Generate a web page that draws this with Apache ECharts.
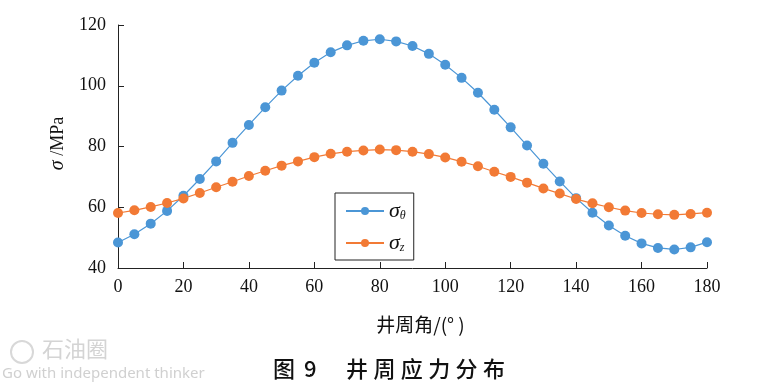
<!DOCTYPE html>
<html><head><meta charset="utf-8">
<script src="https://cdn.jsdelivr.net/npm/echarts@6/dist/echarts.min.js"></script>
<style>html,body{margin:0;padding:0;background:#fff}#c{width:775px;height:388px}</style>
</head><body><div id="c"></div>
<script>
const angles = [0,5,10,15,20,25,30,35,40,45,50,55,60,65,70,75,80,85,90,95,100,105,110,115,120,125,130,135,140,145,150,155,160,165,170,175,180];
const sigmaTheta = [48.4,51.1,54.6,58.8,63.8,69.3,75.1,81.2,87.1,92.9,98.4,103.3,107.6,111.0,113.3,114.8,115.3,114.6,113.1,110.5,106.9,102.6,97.7,92.1,86.3,80.3,74.3,68.5,63.0,58.2,54.0,50.6,48.1,46.6,46.1,46.8,48.5];
const sigmaZ = [58.1,59.0,60.1,61.4,62.9,64.7,66.6,68.4,70.3,72.0,73.7,75.1,76.5,77.6,78.3,78.7,79.0,78.8,78.3,77.5,76.4,75.0,73.5,71.7,70.0,68.1,66.2,64.5,62.7,61.3,60.0,58.9,58.1,57.7,57.5,57.8,58.2];
const xTicks = {min:0, max:180, interval:20};
const yTicks = {min:40, max:120, interval:20};
const captionLabel = ['图', '9'];
const captionText = '井周应力分布';

const chart = echarts.init(document.getElementById('c'));
const serif = 'Liberation Serif, Times New Roman, serif';
const blue = '#4b96d6', orange = '#f27a35';
const capFont = '500 22px "Noto Sans CJK SC"';
const graphics = [
  {type:'text', left:273, top:358, style:{text:captionLabel[0], font:capFont, fill:'#111'}},
  {type:'text', left:304, top:358, style:{text:captionLabel[1], font:capFont, fill:'#111'}}
];
captionText.split('').forEach((ch,i)=>{
  graphics.push({type:'text', left:346 + i*27.4, top:358, style:{text:ch, font:capFont, fill:'#111'}});
});
graphics.push(
  {type:'text', left:42, top:338, style:{text:'石油圈', font:'22px "Noto Sans CJK SC"', fill:'#d4d4d4'}},
  {type:'text', left:2, top:366, style:{text:'Go with independent thinker', font:'15px "Noto Sans"', fill:'#d0d0d0'}},
  {type:'circle', shape:{cx:22, cy:352, r:11}, style:{fill:'none', stroke:'#d8d8d8', lineWidth:2}}
);
chart.setOption({
  animation:false,
  grid:{left:118, right:68, top:25, bottom:120},
  xAxis:{type:'value', min:xTicks.min, max:xTicks.max, interval:xTicks.interval,
    name:'井周角/(° )', nameLocation:'middle', nameGap:47,
    nameTextStyle:{fontFamily:'Noto Sans CJK SC', fontSize:19, color:'#111', padding:[0,0,0,16]},
    axisLine:{lineStyle:{color:'#222', width:1}},
    axisTick:{inside:true, length:6, lineStyle:{color:'#222'}},
    axisLabel:{fontFamily:serif, fontSize:18, color:'#111', margin:10},
    splitLine:{show:false}},
  yAxis:{type:'value', min:yTicks.min, max:yTicks.max, interval:yTicks.interval,
    name:'{i|σ} /MPa', nameLocation:'middle', nameGap:47, nameRotate:90,
    nameTextStyle:{fontFamily:serif, fontSize:18, color:'#111', padding:[0,0,0,6],
      rich:{i:{fontFamily:serif, fontStyle:'italic', fontSize:20, color:'#111'}}},
    axisLine:{show:true, lineStyle:{color:'#222', width:1}},
    axisTick:{show:true, inside:true, length:6, lineStyle:{color:'#222'}},
    axisLabel:{fontFamily:serif, fontSize:18, color:'#111', margin:12},
    splitLine:{show:false}},
  legend:{
    left:335, top:193, width:82, height:55, orient:'vertical',
    itemWidth:38, itemHeight:10, itemGap:10,
    padding:[7,8,6,10],
    borderColor:'#222', borderWidth:1, backgroundColor:'#fff',
    data:['θ','z'],
    formatter:function(n){return '{s|σ}{sub|'+n+'}';},
    textStyle:{fontFamily:serif, color:'#111',
      rich:{s:{fontFamily:serif, fontStyle:'italic', fontSize:22, color:'#111'},
            sub:{fontFamily:serif, fontStyle:'italic', fontSize:12, color:'#111', padding:[10,0,0,0]}}}
  },
  series:[
    {name:'θ', type:'line', data:angles.map((a,i)=>[a,sigmaTheta[i]]),
     symbol:'circle', symbolSize:10, color:blue, lineStyle:{width:1.2, color:blue},
     itemStyle:{color:blue}},
    {name:'z', type:'line', data:angles.map((a,i)=>[a,sigmaZ[i]]),
     symbol:'circle', symbolSize:10, color:orange, lineStyle:{width:1.2, color:orange},
     itemStyle:{color:orange}}
  ],
  graphic:graphics
});
</script></body></html>
